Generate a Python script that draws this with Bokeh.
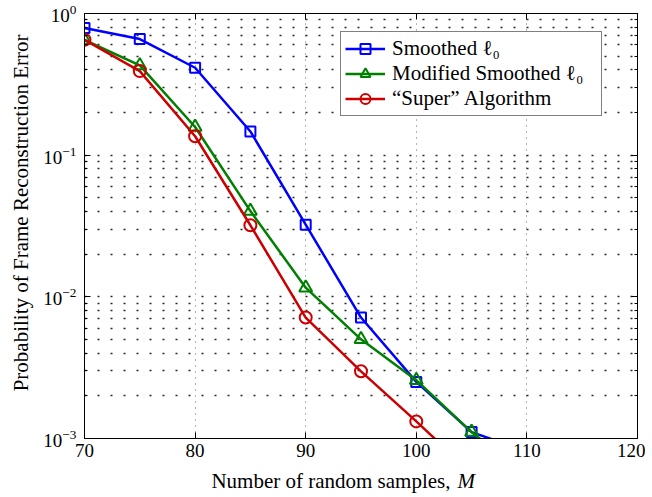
from bokeh.plotting import figure
from bokeh.layouts import column
from bokeh.models import (LinearAxis, LogAxis, FixedTicker, Legend, LegendItem,
                          Label, Range1d)
from bokeh.embed import file_html
from bokeh.resources import INLINE

# ---- data ----
M = [70, 75, 80, 85, 90, 95, 100, 105, 110]
smoothed = [0.79, 0.66, 0.414, 0.147, 0.0323, 0.00714, 0.00251, 0.00111, 0.00081]
modified = [0.65, 0.43, 0.158, 0.0403, 0.0116, 0.00501, 0.00258, 0.00111, 0.00055]
M_super = [70, 75, 80, 85, 90, 95, 100, 105]
super_alg = [0.652, 0.392, 0.136, 0.0320, 0.00714, 0.00298, 0.00132, 0.00057]

x_ticks = [70, 80, 90, 100, 110, 120]
y_major = [1e-3, 1e-2, 1e-1, 1e0]
y_minor = [m * d for d in [1e-3, 1e-2, 1e-1] for m in range(2, 10)]

labels = ["Smoothed \u2113\u2080", "Modified Smoothed \u2113\u2080", "\u201cSuper\u201d Algorithm"]
y_label = "\u00a0" * 5 + "Probability of Frame Reconstruction Error"
x_label_main = "Number of random samples,"
x_label_var = "M"

FONT = "Liberation Serif"

p = figure(width=645, height=466, y_axis_type="log",
           x_range=Range1d(70, 120), y_range=Range1d(1e-3, 1e0),
           output_backend="svg", toolbar_location=None,
           min_border_left=84, min_border_right=8, min_border_top=13, min_border_bottom=28)
p.outline_line_color = "black"
p.outline_line_width = 1
p.background_fill_color = "white"
p.border_fill_color = "white"

xt = FixedTicker(ticks=x_ticks)
yt = FixedTicker(ticks=y_major, minor_ticks=y_minor)

p.xaxis.ticker = xt
p.yaxis.ticker = yt
for ax in [p.xaxis[0], p.yaxis[0]]:
    ax.axis_line_color = "black"
    ax.major_tick_in = 6
    ax.major_tick_out = 0
    ax.minor_tick_in = 3
    ax.minor_tick_out = 0
    ax.major_label_text_font = FONT
    ax.major_label_text_font_size = "19px"
    ax.major_label_text_color = "black"
    ax.axis_label_text_font = FONT
    ax.axis_label_text_font_size = "21px"
    ax.axis_label_text_font_style = "normal"
    ax.axis_label_text_color = "black"
p.xaxis.minor_tick_line_color = None
p.xaxis.major_label_standoff = 5
p.yaxis.major_label_standoff = 8
p.yaxis.axis_label = y_label
p.yaxis.axis_label_standoff = 7

# top and right tick-only axes
top = LinearAxis(ticker=xt, major_label_text_font_size="1px", major_label_text_alpha=0,
                 major_label_standoff=0,
                 major_tick_in=6, major_tick_out=0, minor_tick_line_color=None,
                 axis_line_color="black")
right = LogAxis(ticker=yt, major_label_text_font_size="1px", major_label_text_alpha=0,
                major_label_standoff=0,
                major_tick_in=6, major_tick_out=0, minor_tick_in=3, minor_tick_out=0,
                axis_line_color="black")
p.add_layout(top, "above")
p.add_layout(right, "right")

# grids
p.xgrid.ticker = xt
p.xgrid.grid_line_color = "black"
p.xgrid.grid_line_alpha = 0.6
p.xgrid.grid_line_dash = "1 5"
p.xgrid.grid_line_width = 1
p.ygrid.ticker = yt
p.ygrid.grid_line_color = "black"
p.ygrid.grid_line_alpha = 0.85
p.ygrid.grid_line_dash = "2 11"
p.ygrid.grid_line_width = 1.5
p.ygrid.minor_grid_line_color = "black"
p.ygrid.minor_grid_line_alpha = 0.85
p.ygrid.minor_grid_line_dash = "2 11"
p.ygrid.minor_grid_line_width = 1.5

blue = "#0000FF"
green = "#008000"
red = "#CC0000"

l1 = p.line(M, smoothed, line_color=blue, line_width=2.5)
s1 = p.scatter(M, smoothed, marker="square", size=10, line_color=blue, line_width=2, fill_color=None)
l2 = p.line(M, modified, line_color=green, line_width=2.5)
s2 = p.scatter(M, modified, marker="triangle", size=13, line_color=green, line_width=2, fill_color=None)
l3 = p.line(M_super, super_alg, line_color=red, line_width=2.5)
s3 = p.scatter(M_super, super_alg, marker="circle", size=12, line_color=red, line_width=2, fill_color=None)

legend = Legend(items=[LegendItem(label=labels[0], renderers=[l1, s1]),
                       LegendItem(label=labels[1], renderers=[l2, s2]),
                       LegendItem(label=labels[2], renderers=[l3, s3])],
                location=(256, 322))
legend.label_text_font = FONT
legend.label_text_font_size = "21px"
legend.label_text_color = "black"
legend.glyph_width = 40
legend.glyph_height = 25
legend.label_height = 25
legend.label_width = 205
legend.label_standoff = 7
legend.spacing = 0
legend.padding = 4
legend.margin = 0
legend.border_line_color = "black"
legend.border_line_width = 1
legend.background_fill_alpha = 1
p.add_layout(legend, "center")

# strip below the chart holding the x-axis title (normal text + italic variable)
p2 = figure(width=645, height=31, x_range=Range1d(0, 1), y_range=Range1d(0, 1),
            output_backend="svg", toolbar_location=None,
            x_axis_location=None, y_axis_location=None,
            min_border=0, min_border_left=0, min_border_right=0,
            min_border_top=0, min_border_bottom=0)
p2.outline_line_color = None
p2.grid.visible = False
p2.background_fill_color = "white"
p2.border_fill_color = "white"
lab1 = Label(x=366, y=17, x_units="screen", y_units="screen", text=x_label_main,
             text_align="right", text_baseline="alphabetic", text_font=FONT,
             text_font_size="21px", text_color="black")
lab2 = Label(x=373, y=17, x_units="screen", y_units="screen", text=x_label_var,
             text_align="left", text_baseline="alphabetic", text_font=FONT,
             text_font_size="21px", text_font_style="italic", text_color="black")
p2.add_layout(lab1)
p2.add_layout(lab2)

layout = column(p, p2, spacing=0)
open("out.html", "w").write(file_html(layout, INLINE))
